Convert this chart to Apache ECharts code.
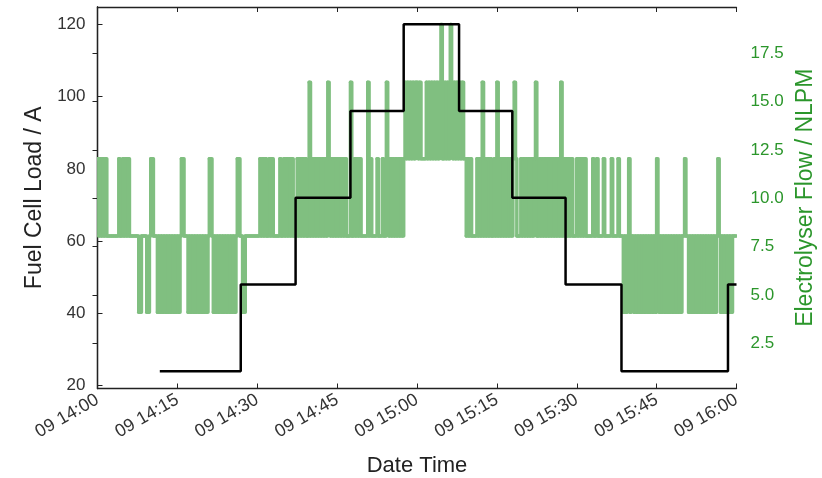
<!DOCTYPE html>
<html>
<head>
<meta charset="utf-8">
<script src="https://cdn.jsdelivr.net/npm/echarts@6/dist/echarts.min.js"></script>
<style>
  html, body { margin: 0; padding: 0; background: #fff; }
  #chart { width: 822px; height: 478px; }
</style>
</head>
<body>
<div id="chart"></div>
<script>
// fuel cell load set-points: minutes after 14:00 and amps, each value holds until the next time
const loadTimes = [11.7, 26.9, 37.2, 47.5, 57.5, 67.9, 77.9, 87.9, 98.4, 118.4, 120]
const loadValues = [24, 48, 72, 96, 120, 96, 72, 48, 24, 48, 48]

// electrolyser flow levels (NLPM), referenced by code 1..5 below
const flowLevels = [4.1, 8.05, 12.05, 16.0, 19.0]
// one code every 15 s, one string per 15 minute block (spaces only for reading)
const flowBlocks = [
  '32323232 22222222 3 22 323232 22222 2 11 222 2 11 2 33 222 121212121212121',
  '21 2 33 222 121212121212121 2 33 2 12121212121212121 2 33 2 2 11 2 22222222',
  '22 32323 22 323 2222 2322 32323232 22 32323232 2 4 23232323232 32 4 323232',
  '32323232 22 4 22 323232 2222 4 2 3 2 2 22 3 2 22 3 2 2 4 323232323232 343 4343434',
  '4343 333 43434343434 5 33 4343 5 4343434343 323232 222 3232 4 232323 22 32',
  '4 232323232323 4 3 2 22 32323232323 4 22 3232323232323232 4 2 3232323 222',
  '32323232 2 222 3 2 2 3 2222 3 22222 3 2222 3 222 1212 3 1 22 12121212121212121',
  '3 2 121212121212121212 2 3 2 2 12121212121 2 1212121212 3 2 121212121 222'
]
const flowStep = 0.25

// tick labels
const loadTicks = [20, 40, 60, 80, 100, 120]
const flowTicks = [2.5, 5.0, 7.5, 10.0, 12.5, 15.0, 17.5]

const loadData = loadTimes.map((t, i) => [t, loadValues[i]])
const flowData = []
flowBlocks.forEach((block, b) => {
  block.replace(/ /g, '').split('').forEach((c, i) => {
    flowData.push([b * 15 + i * flowStep, flowLevels[+c - 1]])
  })
})
flowData.push([120, flowData[flowData.length - 1][1]])
// each sample holds until the next one: [t, v, tNext, vNext]
const flowSteps = flowData.slice(0, -1).map((p, i) => [p[0], p[1], flowData[i + 1][0], flowData[i + 1][1]])

const green = '#2b962b'
const axisColor = '#222'
const font = 'Liberation Sans, Arial, sans-serif'

function timeLabel (v) {
  const h = 14 + Math.floor(v / 60)
  const m = Math.round(v % 60)
  return '09 ' + h + ':' + (m < 10 ? '0' + m : m)
}

var myChart = echarts.init(document.getElementById('chart'))
let option = {
  animation: false,
  textStyle: { fontFamily: font },
  grid: { left: 97.5, right: 85.5, top: 7, bottom: 89.5, containLabel: false, outerBoundsMode: 'none' },
  xAxis: [
    {
      type: 'value',
      min: 0,
      max: 120,
      interval: 15,
      position: 'bottom',
      axisLine: { show: true, lineStyle: { color: axisColor, width: 1.3 } },
      axisTick: { show: true, inside: true, length: 5, lineStyle: { color: axisColor } },
      axisLabel: { rotate: 30, margin: 10, fontSize: 18, color: '#333', formatter: timeLabel },
      splitLine: { show: false },
      name: 'Date Time',
      nameLocation: 'middle',
      nameGap: 66,
      nameTextStyle: { fontSize: 22, color: axisColor }
    },
    {
      type: 'value',
      min: 0,
      max: 120,
      interval: 15,
      position: 'top',
      axisLine: { show: true, lineStyle: { color: axisColor, width: 1.3 } },
      axisTick: { show: true, inside: true, length: 5, lineStyle: { color: axisColor } },
      axisLabel: { show: false },
      splitLine: { show: false }
    }
  ],
  yAxis: [
    {
      type: 'value',
      min: 19.2,
      max: 124.8,
      position: 'left',
      axisLine: { show: true, lineStyle: { color: axisColor, width: 1.3 } },
      axisTick: { show: true, inside: true, length: 5, customValues: loadTicks, lineStyle: { color: axisColor } },
      axisLabel: { customValues: loadTicks, fontSize: 17, color: '#333', margin: 12 },
      splitLine: { show: false },
      name: 'Fuel Cell Load / A',
      nameLocation: 'middle',
      nameRotate: 90,
      nameGap: 47,
      nameTextStyle: { fontSize: 23, color: axisColor }
    },
    {
      type: 'value',
      min: 0.16,
      max: 19.9,
      position: 'right',
      axisLine: { show: true, lineStyle: { color: axisColor, width: 1.3 } },
      axisTick: { show: true, inside: true, length: 5, customValues: flowTicks, lineStyle: { color: axisColor } },
      axisLabel: { customValues: flowTicks, fontSize: 17, color: green, margin: 14, formatter: v => v.toFixed(1) },
      splitLine: { show: false },
      name: 'Electrolyser Flow / NLPM',
      nameLocation: 'middle',
      nameRotate: 90,
      nameGap: 50,
      nameTextStyle: { fontSize: 23, color: green }
    }
  ],
  series: [
    {
      name: 'flow',
      type: 'custom',
      xAxisIndex: 0,
      yAxisIndex: 1,
      clip: true,
      encode: { x: [0, 2], y: [1, 3] },
      data: flowSteps,
      renderItem: function (params, api) {
        const a = api.coord([api.value(0), api.value(1)])
        const b = api.coord([api.value(2), api.value(1)])
        const c = api.coord([api.value(2), api.value(3)])
        return {
          type: 'polyline',
          shape: { points: [a, b, c] },
          style: { stroke: '#80bf80', fill: null, lineWidth: 3.5, lineCap: 'round', lineJoin: 'round' }
        }
      },
      z: 2
    },
    {
      name: 'load',
      type: 'line',
      xAxisIndex: 0,
      yAxisIndex: 0,
      step: 'end',
      symbol: 'none',
      data: loadData,
      lineStyle: { color: '#000', width: 2.5 },
      z: 3
    }
  ]
}
myChart.setOption(option)
</script>
</body>
</html>
